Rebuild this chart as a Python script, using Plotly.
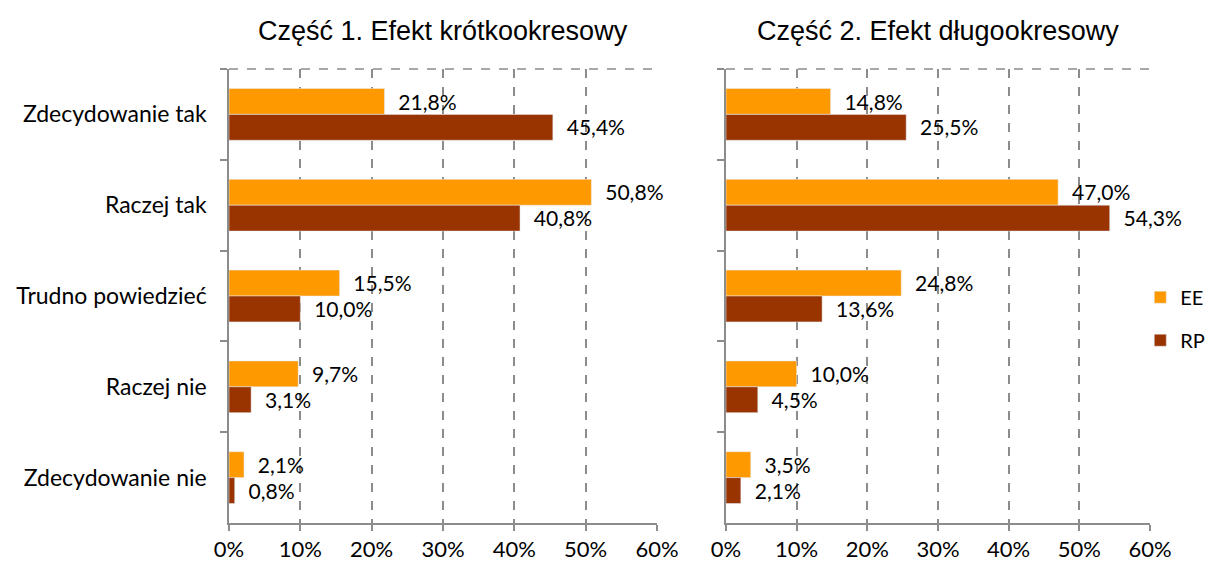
import plotly.graph_objects as go
from plotly.subplots import make_subplots

categories = ["Zdecydowanie tak", "Raczej tak", "Trudno powiedzieć", "Raczej nie", "Zdecydowanie nie"]
ee_part1 = [21.8, 50.8, 15.5, 9.7, 2.1]
rp_part1 = [45.4, 40.8, 10.0, 3.1, 0.8]
ee_part2 = [14.8, 47.0, 24.8, 10.0, 3.5]
rp_part2 = [25.5, 54.3, 13.6, 4.5, 2.1]
x_ticks = [0, 10, 20, 30, 40, 50, 60]
x_tick_labels = ["0%", "10%", "20%", "30%", "40%", "50%", "60%"]
titles = ["Część 1. Efekt krótkookresowy", "Część 2. Efekt długookresowy"]

C_EE = "#FF9900"
C_RP = "#993300"
GRAY = "#8c8c8c"
LBL = "Lato"

fig = make_subplots(rows=1, cols=2, subplot_titles=titles, horizontal_spacing=0.05)

tmpl = "\u00a0\u00a0%{x:.1f}%"
for col, (ee, rp) in enumerate([(ee_part1, rp_part1), (ee_part2, rp_part2)], start=1):
    fig.add_trace(go.Bar(y=categories, x=ee, orientation="h", name="EE", marker_color=C_EE,
                         texttemplate=tmpl, textposition="outside", cliponaxis=False,
                         textfont=dict(family=LBL, size=22, color="#000"),
                         legendgroup="EE", showlegend=(col == 2)), row=1, col=col)
    fig.add_trace(go.Bar(y=categories, x=rp, orientation="h", name="RP", marker_color=C_RP,
                         texttemplate=tmpl, textposition="outside", cliponaxis=False,
                         textfont=dict(family=LBL, size=22, color="#000"),
                         legendgroup="RP", showlegend=(col == 2)), row=1, col=col)

domains = [[229 / 1206, 657 / 1206], [726 / 1206, 1150 / 1206]]
for i in (1, 2):
    fig.update_xaxes(domain=domains[i - 1], range=[0, 60], tickvals=x_ticks, ticktext=x_tick_labels,
                     showgrid=True, griddash="dash", gridcolor=GRAY, gridwidth=1.5,
                     showline=True, linecolor=GRAY, linewidth=1.5, zeroline=False,
                     ticks="outside", ticklen=6, tickcolor=GRAY, tickwidth=1.5,
                     tickfont=dict(family=LBL, size=22, color="#000"), row=1, col=i)
    fig.update_yaxes(type="category", autorange="reversed", tickson="boundaries",
                     ticks="outside", ticklen=7, tickcolor=GRAY, tickwidth=1.5,
                     showline=True, linecolor=GRAY, linewidth=1.5, showgrid=False,
                     showticklabels=(i == 1), ticklabelstandoff=16,
                     tickfont=dict(family=LBL, size=23, color="#000"), row=1, col=i)
    xr = "x" if i == 1 else "x2"
    yr = "y" if i == 1 else "y2"
    fig.add_shape(type="line", xref=f"{xr} domain", yref=f"{yr} domain", x0=0, x1=1, y0=1, y1=1,
                  line=dict(color=GRAY, width=1.5, dash="dash"))

for ann, d in zip(fig.layout.annotations, domains):
    ann.update(font=dict(family="Liberation Sans", size=27, color="#000"),
               x=(d[0] + d[1]) / 2, y=1.0, yanchor="bottom", yshift=21)

fig.update_layout(
    width=1206, height=565, barmode="group", bargap=0.43, bargroupgap=0,
    separators=", ", plot_bgcolor="white", paper_bgcolor="white",
    margin=dict(l=0, r=0, t=69, b=42, autoexpand=False),
    legend=dict(x=0.9455, y=0.45, xanchor="left", yanchor="middle", tracegroupgap=14,
                font=dict(family=LBL, size=20, color="#000"), bgcolor="rgba(0,0,0,0)"),
)

fig.write_html("out.html", config={"displayModeBar": False},
               post_script="document.body.style.margin='0';document.body.style.overflow='hidden';")
